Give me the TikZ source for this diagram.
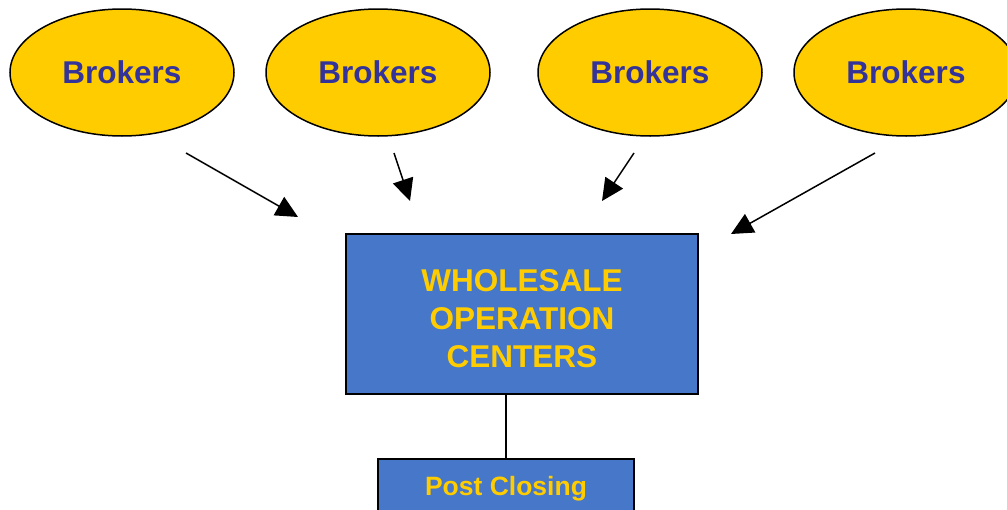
\documentclass[tikz,border=0pt]{standalone}
\usepackage{fontspec}
\setmainfont{Liberation Sans}
\usetikzlibrary{arrows.meta,shapes.geometric}
\definecolor{gold}{HTML}{FFCC00}
\definecolor{navytext}{HTML}{333399}
\definecolor{boxblue}{HTML}{4677C8}
\begin{document}
\begin{tikzpicture}[x=1pt,y=-1pt,
  broker/.style={ellipse,draw=black,line width=1.5pt,fill=gold,
    minimum width=224pt,minimum height=127pt,inner sep=0pt,
    text=navytext,font=\fontsize{31.5}{36}\selectfont\bfseries},
  panel/.style={rectangle,draw=black,line width=1.8pt,fill=boxblue,
    inner sep=0pt},
  paneltext/.style={text=gold,align=center,inner sep=0pt},
  feed/.style={draw=black,line width=1.5pt,
    -{Triangle[length=22pt,width=21pt]}},
  link/.style={draw=black,line width=1.5pt}]
\useasboundingbox (0,0) rectangle (1007,509);
\clip (0,0) rectangle (1007,509);

% brokers
\node[broker] (b1) at (122,72.5) {Brokers};
\node[broker] (b2) at (378,72.5) {Brokers};
\node[broker] (b3) at (650,72.5) {Brokers};
\node[broker] (b4) at (906,72.5) {Brokers};

% wholesale operation centers
\node[panel,minimum width=352pt,minimum height=160pt] (woc) at (522,314) {};
\node[paneltext,font=\fontsize{31.5}{38}\selectfont\bfseries] (woclabel)
  at (522,319) {WHOLESALE\\OPERATION\\CENTERS};

% post closing box
\node[panel,minimum width=256pt,minimum height=60pt,anchor=north]
  (pc) at (506,458) {};
\node[paneltext,font=\fontsize{26.5}{30}\selectfont\bfseries] (pclabel)
  at (506,489) {Post Closing};

% arrow ends
\coordinate (s1) at (186,153); \coordinate (e1) at (298,217);
\coordinate (s2) at (394,153); \coordinate (e2) at (410,201);
\coordinate (s3) at (634,153); \coordinate (e3) at (602,201);
\coordinate (s4) at (875,153); \coordinate (e4) at (731,234);

\draw[feed] (s1) -- (e1);
\draw[feed] (s2) -- (e2);
\draw[feed] (s3) -- (e3);
\draw[feed] (s4) -- (e4);

\draw[link] (woc.south -| pc.north) -- (pc.north);
\end{tikzpicture}
\end{document}
